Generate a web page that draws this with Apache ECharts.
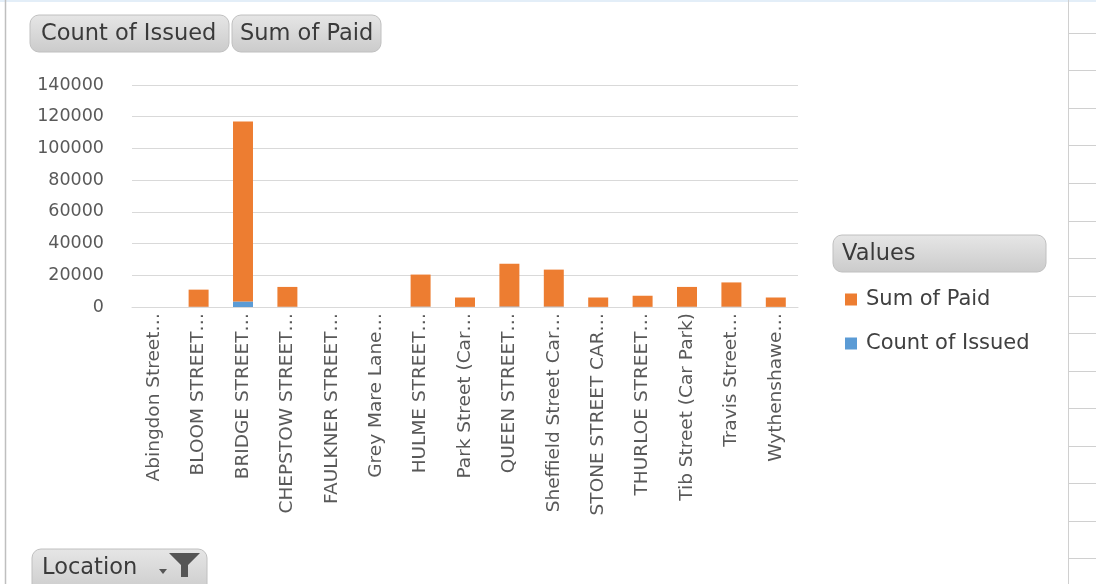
<!DOCTYPE html>
<html>
<head>
<meta charset="utf-8">
<script src="https://cdn.jsdelivr.net/npm/echarts@6/dist/echarts.min.js"></script>
<style>
html,body{margin:0;padding:0;background:#fff;}
#c{width:1096px;height:584px;}
</style>
</head>
<body>
<div id="c"></div>
<script>
const categories = ["Abingdon Street\u2026","BLOOM STREET\u2026","BRIDGE STREET\u2026","CHEPSTOW STREET\u2026","FAULKNER STREET\u2026","Grey Mare Lane\u2026","HULME STREET\u2026","Park Street (Car\u2026","QUEEN STREET\u2026","Sheffield Street Car\u2026","STONE STREET CAR\u2026","THURLOE STREET\u2026","Tib Street (Car Park)","Travis Street\u2026","Wythenshawe\u2026"];
const countOfIssued = [10, 150, 3500, 160, 10, 10, 250, 90, 330, 280, 90, 100, 160, 200, 90];
const sumOfPaid = [0, 10800, 113500, 12500, 0, 0, 20200, 5900, 27000, 23300, 5900, 7000, 12500, 15300, 5900];
const yTicks = {min: 0, max: 140000, interval: 20000};

const FONT = '"DejaVu Sans", "Noto Sans", sans-serif';
const chart = echarts.init(document.getElementById('c'), null, {renderer: 'canvas'});

function button(x, y, w, h, label, fs, pad, ty) {
  return [{
    type: 'rect', shape: {x: x, y: y, width: w, height: h, r: 9},
    style: {
      fill: new echarts.graphic.LinearGradient(0, 0, 0, 1, [
        {offset: 0, color: '#e6e6e6'}, {offset: 1, color: '#cbcbcb'}]),
      stroke: '#c0c0c0', lineWidth: 1
    }, z: 10
  }, {
    type: 'text', x: x + pad, y: ty,
    style: {text: label, font: fs + 'px ' + FONT, fill: '#3a3a3a', textVerticalAlign: 'middle', textBaseline: 'middle'},
    z: 11
  }];
}

const gridLines = [33, 70, 108, 145, 183, 221, 258, 296, 333, 371, 408, 446, 483, 521, 558];
const graphics = [];
graphics.push({type: 'rect', shape: {x: 0, y: 0, width: 1096, height: 2}, style: {fill: '#e3eef8'}, z: 1});
graphics.push({type: 'line', shape: {x1: 5.5, y1: 0, x2: 5.5, y2: 584}, style: {stroke: '#bfbfbf', lineWidth: 1.5}, z: 1});
graphics.push({type: 'line', shape: {x1: 1068.5, y1: 0, x2: 1068.5, y2: 584}, style: {stroke: '#d0d0d0', lineWidth: 1}, z: 1});
gridLines.forEach(function (gy) {
  graphics.push({type: 'line', shape: {x1: 1068, y1: gy + 0.5, x2: 1096, y2: gy + 0.5}, style: {stroke: '#d0d0d0', lineWidth: 1}, z: 1});
});
const BF = 22.5;
button(30, 15, 199, 37, 'Count of Issued', BF, 11, 34).forEach(function (g) { graphics.push(g); });
button(232, 15, 149, 37, 'Sum of Paid', BF, 8, 34).forEach(function (g) { graphics.push(g); });
button(833, 235, 213, 37, 'Values', BF, 9, 254).forEach(function (g) { graphics.push(g); });
button(32, 549, 175, 44, 'Location', BF, 10, 568).forEach(function (g) { graphics.push(g); });
// funnel icon
graphics.push({type: 'polygon', shape: {points: [[169, 553], [200, 553], [188, 565], [188, 577], [181, 577], [181, 565]]}, style: {fill: '#555'}, z: 12});
graphics.push({type: 'polygon', shape: {points: [[159, 569], [167, 569], [163, 574]]}, style: {fill: '#555'}, z: 12});

chart.setOption({
  backgroundColor: '#ffffff',
  animation: false,
  textStyle: {fontFamily: FONT},
  grid: {left: 132, right: 298, top: 85, bottom: 277, containLabel: false},
  legend: {
    data: ['Sum of Paid', 'Count of Issued'],
    orient: 'vertical', left: 840, top: 284,
    itemWidth: 12, itemHeight: 12, itemGap: 23,
    icon: 'rect',
    textStyle: {fontSize: 21, color: '#404040', fontFamily: FONT, padding: [0, 0, 0, 4]}
  },
  xAxis: {
    type: 'category', data: categories,
    axisLine: {lineStyle: {color: '#d9d9d9', width: 1}},
    axisTick: {show: false},
    axisLabel: {rotate: 90, fontSize: 18.5, color: '#595959', margin: 6, interval: 0, fontFamily: FONT}
  },
  yAxis: {
    type: 'value', min: yTicks.min, max: yTicks.max, interval: yTicks.interval,
    axisLine: {show: false}, axisTick: {show: false},
    axisLabel: {fontSize: 17.5, color: '#595959', margin: 28, fontFamily: FONT, formatter: function (v) { return String(v); }},
    splitLine: {lineStyle: {color: '#d9d9d9', width: 1}}
  },
  series: [{
    name: 'Count of Issued', type: 'bar', stack: 's', data: countOfIssued,
    itemStyle: {color: '#5b9bd5'}, barCategoryGap: '55%'
  }, {
    name: 'Sum of Paid', type: 'bar', stack: 's', data: sumOfPaid,
    itemStyle: {color: '#ed7d31'}, barCategoryGap: '55%'
  }],
  graphic: graphics
});
</script>
</body>
</html>
